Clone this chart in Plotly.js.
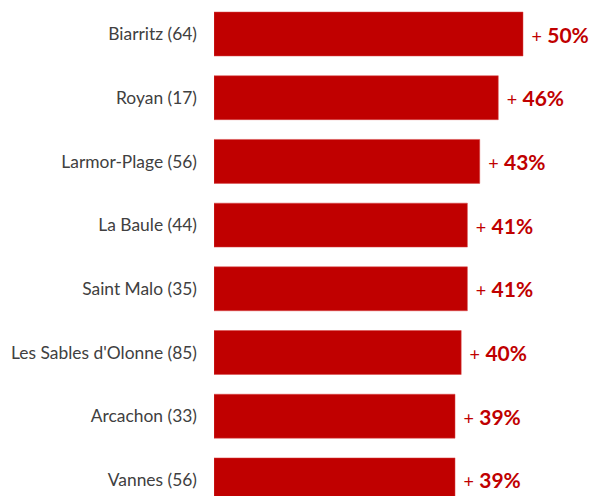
<!DOCTYPE html>
<html>
<head>
<meta charset="utf-8">
<script src="https://cdn.plot.ly/plotly-3.0.1.min.js"></script>
<style>
  html, body { margin: 0; padding: 0; background: #ffffff; }
  #chart { width: 589px; height: 496px; }
</style>
</head>
<body>
<div id="chart"></div>
<script>
var cities = [
  "Biarritz (64)",
  "Royan (17)",
  "Larmor-Plage (56)",
  "La Baule (44)",
  "Saint Malo (35)",
  "Les Sables d'Olonne (85)",
  "Arcachon (33)",
  "Vannes (56)"
];
var growth = [50, 46, 43, 41, 41, 40, 39, 39];

var labels = growth.map(function (v) {
  return "\u00a0<span style=\"font-size:18px;font-weight:normal\">+</span>\u00a0<b>" + v + "%</b>";
});

var trace = {
  type: "bar",
  orientation: "h",
  x: growth,
  y: cities,
  text: labels,
  textposition: "outside",
  cliponaxis: false,
  textfont: { family: "Lato, 'Open Sans', sans-serif", size: 21, color: "#C00000" },
  marker: { color: "#C00000", line: { color: "#D84848", width: 0.5 } },
  hoverinfo: "none"
};

var layout = {
  width: 589,
  height: 496,
  margin: { l: 214, r: 0, t: 0, b: 0, pad: 0 },
  paper_bgcolor: "#ffffff",
  plot_bgcolor: "#ffffff",
  showlegend: false,
  bargap: 0.31,
  xaxis: {
    range: [0, 60.68],
    visible: false,
    fixedrange: true
  },
  yaxis: {
    type: "category",
    range: [7.253, -0.534],
    showgrid: false,
    zeroline: false,
    showline: false,
    ticks: "",
    ticklabelstandoff: 16,
    tickfont: { family: "Lato, 'Open Sans', sans-serif", size: 17.4, color: "#404040" },
    fixedrange: true
  }
};

Plotly.newPlot("chart", [trace], layout, { displayModeBar: false, staticPlot: true });
</script>
</body>
</html>
